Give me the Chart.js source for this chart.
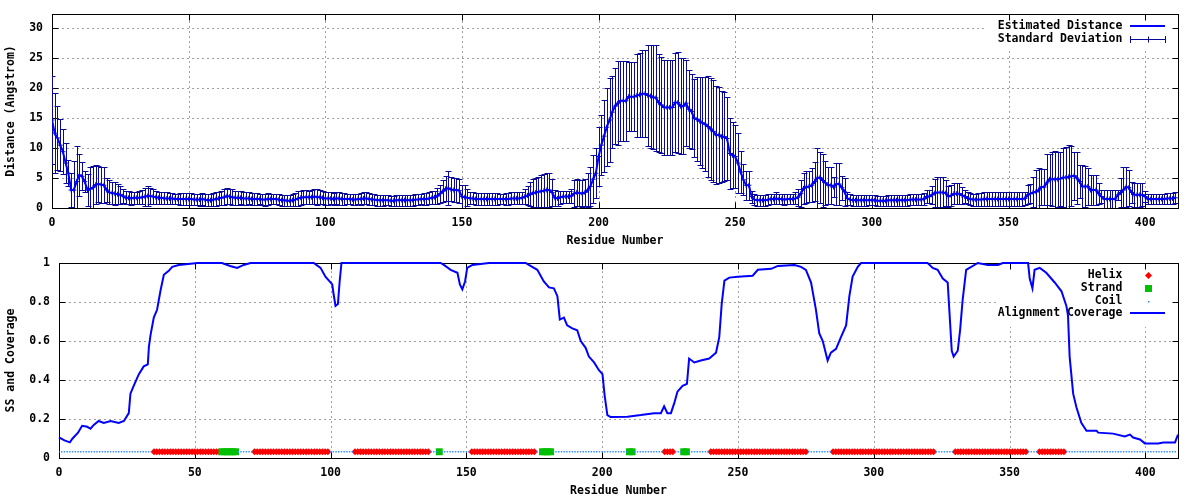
<!DOCTYPE html>
<html><head><meta charset="utf-8">
<script src="https://cdn.jsdelivr.net/npm/chart.js@4/dist/chart.umd.min.js"></script>
<style>
html,body{margin:0;padding:0;background:#fff;}
#wrap{position:relative;width:1200px;height:500px;background:#fff;}
canvas{position:absolute;left:0;}
</style></head><body>
<div id="wrap">
<canvas id="c1" width="1200" height="250" style="top:0"></canvas>
<canvas id="c2" width="1200" height="250" style="top:250px"></canvas>
</div>
<script>
// ---------- DATA ----------
const residueTicks = [0,50,100,150,200,250,300,350,400];
const distanceTicks = [0,5,10,15,20,25,30];
const coverageTicks = [0,0.2,0.4,0.6,0.8,1];
const coverageTickLabels = ['0','0.2','0.4','0.6','0.8','1'];

// estimated distance per residue (0..411)
const distance = [
14.7,12.5,11.7,10.5,9.4,7.5,5.8,3.0,3.0,4.4,
5.5,5.3,4.4,3.0,3.2,3.4,3.9,4.0,3.9,3.8,
3.0,2.6,2.5,2.4,2.3,2.2,2.0,1.7,1.7,1.6,
1.7,1.7,1.7,1.8,1.9,2.0,2.0,1.9,1.8,1.7,
1.7,1.6,1.6,1.6,1.6,1.5,1.5,1.5,1.5,1.5,
1.5,1.5,1.4,1.4,1.4,1.5,1.4,1.3,1.3,1.4,
1.5,1.6,1.7,1.8,2.0,1.9,1.8,1.7,1.7,1.7,
1.6,1.6,1.6,1.5,1.5,1.5,1.5,1.4,1.4,1.5,
1.5,1.5,1.5,1.4,1.3,1.3,1.2,1.2,1.3,1.4,
1.6,1.7,1.8,1.8,1.8,1.8,1.9,1.8,1.8,1.7,
1.6,1.6,1.6,1.5,1.6,1.6,1.5,1.5,1.5,1.5,
1.4,1.4,1.5,1.5,1.6,1.6,1.5,1.4,1.4,1.3,
1.3,1.3,1.3,1.3,1.2,1.2,1.3,1.3,1.3,1.3,
1.3,1.3,1.3,1.4,1.4,1.5,1.5,1.5,1.6,1.7,
1.8,2.0,2.4,2.8,3.2,3.3,3.1,3.0,3.0,2.9,
1.9,1.8,1.7,1.6,1.6,1.5,1.5,1.5,1.5,1.5,
1.5,1.5,1.5,1.5,1.5,1.5,1.5,1.5,1.6,1.6,
1.6,1.6,1.7,1.9,2.1,2.3,2.5,2.6,2.7,2.8,
2.9,3.0,3.0,2.6,1.7,1.6,1.8,1.9,1.9,1.9,
2.0,2.4,2.6,2.5,2.4,2.6,3.0,3.6,4.8,5.8,
8.6,10.5,12.0,13.5,14.7,16.0,17.0,17.5,17.9,17.9,
17.9,18.6,18.6,18.6,18.8,18.9,19.1,19.1,18.8,18.7,
18.5,18.4,17.6,17.2,16.8,16.8,16.8,16.8,17.6,17.6,
17.0,17.0,17.5,16.5,16.1,15.0,14.8,14.5,14.2,14.0,
13.6,13.2,12.8,12.2,12.2,11.9,11.9,11.6,9.1,8.8,
8.6,7.5,6.0,4.7,3.8,3.8,1.9,1.4,1.3,1.3,
1.3,1.3,1.4,1.5,1.5,1.6,1.5,1.5,1.4,1.5,
1.5,1.5,1.6,1.8,2.4,3.3,3.5,3.6,3.8,4.4,
5.0,5.1,4.6,4.2,3.8,3.8,3.5,4.0,4.0,3.4,
2.7,1.6,1.4,1.3,1.3,1.3,1.3,1.3,1.3,1.3,
1.3,1.3,1.2,1.2,1.2,1.2,1.3,1.3,1.3,1.3,
1.3,1.3,1.3,1.3,1.4,1.4,1.4,1.4,1.4,1.5,
1.9,1.9,2.2,2.5,2.6,2.6,2.6,2.5,1.9,2.1,
2.4,2.4,2.4,2.1,1.9,1.6,1.5,1.4,1.4,1.4,
1.4,1.5,1.5,1.5,1.5,1.5,1.5,1.5,1.5,1.5,
1.5,1.5,1.5,1.5,1.5,1.5,1.6,2.2,2.4,2.6,
2.7,3.0,3.5,3.5,4.2,4.8,4.8,4.8,4.8,4.9,
5.1,5.1,5.2,5.3,5.4,5.0,4.4,3.6,3.6,3.6,
3.0,3.0,3.0,2.4,1.9,1.5,1.5,1.5,1.5,1.5,
2.2,2.6,3.0,3.5,3.4,2.6,2.2,2.2,2.2,2.2,
1.9,1.5,1.5,1.5,1.5,1.5,1.5,1.5,1.6,1.6,1.6,1.7
];

// standard deviation per residue (0..411)
const stdDev = [
7.3,6.7,5.3,4.4,3.8,3.3,2.2,2.8,4.8,5.9,
3.5,2.3,1.8,2.6,3.6,3.6,3.2,3.0,3.0,3.0,
2.0,2.0,1.9,1.9,1.7,1.5,1.2,1.1,1.1,1.1,
1.0,1.0,1.1,1.2,1.5,1.6,1.4,1.2,1.1,1.0,
1.0,1.0,1.0,0.9,0.9,0.9,0.9,1.0,1.0,1.0,
1.0,1.0,0.9,0.9,1.0,1.0,1.0,1.0,1.0,1.1,
1.1,1.1,1.2,1.3,1.4,1.3,1.3,1.2,1.2,1.1,
1.1,1.1,1.0,1.0,1.0,1.0,0.9,0.9,1.0,1.0,
0.9,0.9,0.9,0.9,0.9,0.9,0.9,0.9,1.0,1.1,
1.2,1.2,1.2,1.2,1.1,1.2,1.3,1.3,1.2,1.1,
1.1,1.1,1.0,1.0,1.0,1.1,1.0,1.0,0.9,0.9,
0.9,0.9,0.9,1.0,1.0,1.0,1.0,0.9,0.9,0.9,
0.9,0.9,0.8,0.8,0.8,0.8,0.9,0.9,0.9,0.9,
0.9,0.9,0.9,0.9,0.9,0.9,1.0,1.0,1.0,1.1,
1.1,1.3,1.5,1.8,2.1,2.8,2.0,2.0,2.0,2.0,
2.0,2.0,1.4,1.0,1.0,1.0,1.0,1.0,1.0,1.0,
1.0,1.0,1.0,1.0,0.9,0.9,1.0,1.0,1.0,1.0,
1.0,1.0,1.0,1.3,1.6,2.0,2.3,2.4,2.5,2.7,
2.7,2.8,2.8,2.3,1.3,1.2,1.1,1.0,1.0,1.0,
1.1,2.2,2.2,2.2,2.2,2.3,2.8,3.3,4.0,4.2,
5.0,5.0,6.0,6.5,7.0,6.0,6.3,7.0,6.7,6.7,
6.7,5.8,5.8,5.8,7.0,7.0,7.3,7.3,8.5,8.6,
8.7,8.8,8.2,8.0,8.0,7.9,7.9,8.0,8.3,8.4,
8.0,8.0,7.2,6.5,6.2,6.5,7.0,7.3,7.6,7.8,
8.5,8.5,8.5,8.2,8.0,7.6,7.4,7.0,6.0,5.5,
5.2,5.0,3.5,2.6,2.4,2.4,1.0,0.9,0.9,0.9,
0.9,0.9,0.9,0.9,0.9,1.0,0.9,0.9,0.9,0.9,
0.9,0.9,1.0,1.4,2.3,2.6,2.6,2.6,2.8,3.3,
5.0,4.3,4.5,3.7,3.1,3.1,1.7,3.5,3.5,2.0,
2.3,1.1,0.9,0.9,0.9,0.9,0.9,0.9,0.9,0.8,
0.8,0.8,0.8,0.8,0.8,0.8,0.9,0.9,0.9,0.9,
0.9,0.9,0.9,0.9,0.9,0.9,0.9,0.9,0.9,1.0,
1.1,1.1,1.5,2.4,2.5,2.6,2.5,2.2,1.8,1.8,
1.7,1.7,1.7,1.4,1.1,1.0,1.0,1.0,1.0,1.1,
1.1,1.1,1.1,1.1,1.1,1.1,1.1,1.1,1.1,1.1,
1.1,1.1,1.1,1.1,1.1,1.1,1.1,1.6,1.6,2.5,
3.6,3.6,3.0,3.0,4.9,4.3,4.5,4.8,4.6,4.5,
4.9,5.1,5.3,5.0,4.0,4.4,2.8,3.6,3.4,3.1,
2.5,2.5,2.5,1.8,1.1,1.5,1.5,1.5,1.5,1.5,
0.8,2.4,3.8,3.3,3.0,1.8,2.0,2.0,2.0,1.9,
0.9,0.9,0.9,0.9,0.9,0.9,0.9,0.9,0.9,0.9,0.9,0.9
];

// alignment coverage: residue positions and values
const coverageX = [
0,2,4,5,7,8.5,10.4,11.6,12.8,14.6,
16.5,19,22,23.9,25.7,26.3,27.5,29.4,31.2,32.7,
33.1,33.7,34.9,36.1,37.4,38.6,40.4,41.7,44.1,51,
60,63,65.6,68,70.5,93.8,96.3,98.1,100.6,101,
101.8,102.7,103.3,104,140.5,141.7,144.2,146.7,147.6,148.5,
149.5,150.3,152.2,158.3,171.8,173.6,176.1,178.5,180.4,182.2,
183.5,184.4,185.9,187.1,189,190.8,192.1,193.9,195.1,197,
198.8,200.1,200.9,201.9,203.1,209.3,214.2,219.1,221.6,222.8,
224,225.3,226.5,227.7,229.6,231.2,232,233.9,236.3,239.4,
241.9,243.1,244,245,246.8,249.9,255.4,257.3,262.2,264.7,
270.8,273.2,275,276.9,278.7,279.9,281.2,283,284.2,286.1,
287.9,289.8,291,292.2,294.1,295.3,319.8,321.7,323.5,325.4,
327.2,327.8,328.7,329.4,330.9,331.8,332.7,334,338.3,342,
345.7,347.5,356.8,357.4,358.4,359.2,361.1,363.5,366.6,369.1,
370.9,371.5,372.1,373.4,374.6,376.4,378.3,382,382.6,388.1,
392.4,394.3,395.5,398,399.8,404.7,406.6,410.9,412
];
const coverageY = [
0.106,0.09,0.08,0.10,0.13,0.165,0.16,0.15,0.17,0.19,
0.18,0.19,0.18,0.19,0.23,0.33,0.37,0.43,0.47,0.48,
0.57,0.63,0.72,0.76,0.86,0.94,0.96,0.98,0.99,1.0,
1.0,0.985,0.975,0.99,1.0,1.0,0.975,0.93,0.89,0.85,
0.78,0.79,0.9,1.0,1.0,0.99,0.965,0.95,0.89,0.865,
0.905,0.975,0.99,1.0,1.0,0.985,0.965,0.905,0.875,0.87,
0.83,0.71,0.72,0.68,0.665,0.655,0.60,0.565,0.52,0.49,
0.45,0.43,0.32,0.22,0.21,0.212,0.22,0.23,0.23,0.265,
0.23,0.23,0.28,0.34,0.37,0.38,0.51,0.49,0.50,0.51,
0.54,0.62,0.79,0.91,0.925,0.93,0.935,0.965,0.97,0.985,
0.99,0.98,0.965,0.9,0.76,0.64,0.6,0.50,0.54,0.56,
0.62,0.68,0.83,0.93,0.98,1.0,1.0,0.975,0.965,0.92,
0.9,0.76,0.55,0.52,0.55,0.66,0.81,0.965,1.0,0.99,
0.99,1.0,1.0,0.92,0.87,0.965,0.975,0.95,0.9,0.855,
0.78,0.73,0.52,0.33,0.26,0.18,0.14,0.14,0.13,0.125,
0.11,0.12,0.105,0.095,0.075,0.075,0.08,0.08,0.12
];

// secondary structure (residue ranges) and the level they are drawn at
const helixRanges = [[35,59],[72,99],[109,136],[152,175],[223,226],[240,275],[285,322],[330,356],[361,370]];
const strandRanges = [[60,65],[140,140],[178,181],[210,211],[230,231]];
const ssLevel = 0.032;

// ---------- STYLE / HELPERS ----------
const FAMILY = "'DejaVu Sans Mono','Liberation Mono',monospace";
const FONT = {family: FAMILY, size: 11.5, weight: 'bold', lineHeight: 1.2};
const FONT_CSS = "bold 11.5px " + FAMILY;
const LINE_BLUE = '#0000ff';
const BAR_NAVY = '#0a0a9a';
const HELIX_RED = '#ff0000';
const STRAND_GREEN = '#00c000';
const COIL_BLUE = '#2a8cff';

function rangePoints(ranges) {
  const pts = [];
  ranges.forEach(([a, b]) => { for (let r = a; r <= b; r++) pts.push({x: r, y: ssLevel}); });
  return pts;
}
const lastResidue = distance.length - 1;
const ssSet = new Set(rangePoints(helixRanges.concat(strandRanges)).map(p => p.x));
const coilPoints = [];
for (let r = 0; r <= lastResidue; r++) if (!ssSet.has(r)) coilPoints.push({x: r, y: ssLevel});

function makeFrame(keyItems, keyW, keyH) {
  return {
    id: 'frame',
    beforeDatasetsDraw(chart) {
      const {ctx, chartArea: a} = chart;
      const sx = chart.scales.x, sy = chart.scales.y;
      ctx.save();
      // dotted grid
      ctx.strokeStyle = '#a0a0a0'; ctx.lineWidth = 1; ctx.setLineDash([2, 3]);
      ctx.beginPath();
      sx.ticks.forEach(t => {
        const p = Math.round(sx.getPixelForValue(t.value)) + 0.5;
        if (p > a.left + 2 && p < a.right - 2) { ctx.moveTo(p, a.bottom); ctx.lineTo(p, a.top); }
      });
      sy.ticks.forEach(t => {
        const p = Math.round(sy.getPixelForValue(t.value)) + 0.5;
        if (p > a.top + 2 && p < a.bottom - 2) { ctx.moveTo(a.left, p); ctx.lineTo(a.right, p); }
      });
      ctx.stroke(); ctx.setLineDash([]);
      // opaque key box
      ctx.fillStyle = '#fff';
      ctx.fillRect(a.right - keyW, a.top + 1, keyW - 1, keyH);
      // border
      ctx.strokeStyle = '#000'; ctx.lineWidth = 1;
      const L = Math.round(a.left) + 0.5, T = Math.round(a.top) + 0.5, R = Math.round(a.right) + 0.5, B = Math.round(a.bottom) + 0.5;
      ctx.strokeRect(L, T, R - L, B - T);
      // inward ticks on all sides
      ctx.beginPath();
      sx.ticks.forEach(t => {
        const p = Math.round(sx.getPixelForValue(t.value)) + 0.5;
        ctx.moveTo(p, B); ctx.lineTo(p, B - 6); ctx.moveTo(p, T); ctx.lineTo(p, T + 6);
      });
      sy.ticks.forEach(t => {
        const p = Math.round(sy.getPixelForValue(t.value)) + 0.5;
        ctx.moveTo(L, p); ctx.lineTo(L + 6, p); ctx.moveTo(R, p); ctx.lineTo(R - 6, p);
      });
      ctx.stroke();
      // key
      ctx.font = FONT_CSS; ctx.textAlign = 'right'; ctx.textBaseline = 'middle';
      const x0 = a.right - 48, x1 = a.right - 13, xm = Math.round((x0 + x1) / 2) + 0.5;
      keyItems.forEach((it, i) => {
        const y = Math.round(a.top + 12 + 12.8 * i) + 0.5;
        ctx.fillStyle = '#000';
        ctx.fillText(it.text, a.right - 55.6, y);
        if (it.kind === 'line') {
          ctx.strokeStyle = it.color; ctx.lineWidth = 2;
          ctx.beginPath(); ctx.moveTo(x0, y - 0.5); ctx.lineTo(x1, y - 0.5); ctx.stroke();
        } else if (it.kind === 'errorbar') {
          ctx.strokeStyle = it.color; ctx.lineWidth = 1;
          ctx.beginPath();
          ctx.moveTo(x0, y); ctx.lineTo(x1, y);
          ctx.moveTo(Math.round(x0) + 0.5, y - 3.5); ctx.lineTo(Math.round(x0) + 0.5, y + 3.5);
          ctx.moveTo(Math.round(x1) + 0.5, y - 3.5); ctx.lineTo(Math.round(x1) + 0.5, y + 3.5);
          ctx.moveTo(xm, y - 3); ctx.lineTo(xm, y + 3);
          ctx.stroke();
        } else if (it.kind === 'diamond') {
          ctx.fillStyle = it.color;
          ctx.beginPath(); ctx.moveTo(xm, y - 3.5); ctx.lineTo(xm + 3.5, y); ctx.lineTo(xm, y + 3.5); ctx.lineTo(xm - 3.5, y); ctx.closePath(); ctx.fill();
        } else if (it.kind === 'square') {
          ctx.fillStyle = it.color; ctx.fillRect(xm - 3.5, y - 3.5, 7, 7);
        } else if (it.kind === 'dot') {
          ctx.fillStyle = it.color; ctx.fillRect(xm - 0.5, y - 0.5, 1.5, 1.5);
        }
      });
      ctx.restore();
    }
  };
}

const errorBars = {
  id: 'errorBars',
  beforeDatasetsDraw(chart) {
    const {ctx, chartArea: a} = chart;
    const sx = chart.scales.x, sy = chart.scales.y;
    ctx.save();
    ctx.beginPath(); ctx.rect(a.left, a.top, a.right - a.left, a.bottom - a.top); ctx.clip();
    ctx.strokeStyle = BAR_NAVY; ctx.lineWidth = 1;
    ctx.beginPath();
    distance.forEach((v, i) => {
      const x = Math.round(sx.getPixelForValue(i)) + 0.5;
      const yl = Math.round(sy.getPixelForValue(v - stdDev[i])) + 0.5;
      const yh = Math.round(sy.getPixelForValue(v + stdDev[i])) + 0.5;
      ctx.moveTo(x, yl); ctx.lineTo(x, yh);
      ctx.moveTo(x - 3, yl); ctx.lineTo(x + 3, yl);
      ctx.moveTo(x - 3, yh); ctx.lineTo(x + 3, yh);
    });
    ctx.stroke();
    ctx.restore();
  }
};

function axisOptions(yTicks, yLabels, yTitle, yMax, yWidth) {
  return {
    x: {
      type: 'linear', min: 0, max: 412,
      grid: {display: false, drawTicks: false, tickLength: 0}, border: {display: false},
      afterBuildTicks: s => { s.ticks = residueTicks.map(v => ({value: v})); },
      afterFit: s => { s.height = 42; s.paddingLeft = 0; s.paddingRight = 0; },
      ticks: {color: '#000', font: FONT, padding: 8, maxRotation: 0, autoSkip: false,
              callback: v => String(v)},
      title: {display: true, text: 'Residue Number', color: '#000', font: FONT, padding: {top: 0, bottom: 2}}
    },
    y: {
      type: 'linear', min: 0, max: yMax,
      grid: {display: false, drawTicks: false, tickLength: 0}, border: {display: false},
      afterBuildTicks: s => { s.ticks = yTicks.map(v => ({value: v})); },
      afterFit: s => { s.width = yWidth; s.paddingTop = 0; s.paddingBottom = 0; },
      ticks: {color: '#000', font: FONT, padding: 9, autoSkip: false,
              callback: (v, i) => yLabels[i]},
      title: {display: true, text: yTitle, color: '#000', font: FONT, padding: {top: 4, bottom: 0}}
    }
  };
}

const common = {
  responsive: false, animation: false, devicePixelRatio: 1, events: [],
  plugins: {legend: {display: false}, tooltip: {enabled: false}}
};

// ---------- TOP: estimated distance ----------
new Chart(document.getElementById('c1'), {
  type: 'line',
  data: {
    datasets: [
      {label: 'Estimated Distance', data: distance.map((v, i) => ({x: i, y: v})),
       borderColor: LINE_BLUE, borderWidth: 2, pointRadius: 0, tension: 0, order: 0},
      {label: 'Standard Deviation', data: distance.map((v, i) => ({x: i, y: v})),
       showLine: false, pointStyle: 'cross', pointRadius: 2.5, borderColor: BAR_NAVY,
       pointBorderColor: BAR_NAVY, pointBorderWidth: 1, order: 1}
    ]
  },
  options: Object.assign({}, common, {
    layout: {padding: {left: 0, right: 22, top: 14, bottom: 0}},
    scales: axisOptions(distanceTicks, distanceTicks.map(String), 'Distance (Angstrom)', 32.4, 52)
  }),
  plugins: [
    makeFrame([{text: 'Estimated Distance', kind: 'line', color: LINE_BLUE},
               {text: 'Standard Deviation', kind: 'errorbar', color: BAR_NAVY}], 192, 33),
    errorBars
  ]
});

// ---------- BOTTOM: secondary structure and coverage ----------
new Chart(document.getElementById('c2'), {
  type: 'line',
  data: {
    datasets: [
      {label: 'Alignment Coverage', data: coverageX.map((x, i) => ({x: x, y: coverageY[i]})),
       borderColor: LINE_BLUE, borderWidth: 2, pointRadius: 0, tension: 0, clip: 3, order: 0},
      {label: 'Coil', data: coilPoints, showLine: false, pointStyle: 'rect', pointRadius: 1,
       backgroundColor: COIL_BLUE, borderColor: COIL_BLUE, pointBorderWidth: 0, order: 1},
      {label: 'Strand', data: rangePoints(strandRanges), showLine: false, pointStyle: 'rect', pointRadius: 4.9,
       backgroundColor: STRAND_GREEN, borderColor: STRAND_GREEN, pointBorderWidth: 0, order: 2},
      {label: 'Helix', data: rangePoints(helixRanges), showLine: false, pointStyle: 'rectRot', pointRadius: 3.6,
       backgroundColor: HELIX_RED, borderColor: HELIX_RED, pointBorderWidth: 0, order: 3}
    ]
  },
  options: Object.assign({}, common, {
    layout: {padding: {left: 0, right: 22, top: 13, bottom: 0}},
    scales: axisOptions(coverageTicks, coverageTickLabels, 'SS and Coverage', 1, 59)
  }),
  plugins: [
    makeFrame([{text: 'Helix', kind: 'diamond', color: HELIX_RED},
               {text: 'Strand', kind: 'square', color: STRAND_GREEN},
               {text: 'Coil', kind: 'dot', color: COIL_BLUE},
               {text: 'Alignment Coverage', kind: 'line', color: LINE_BLUE}], 180, 63)
  ]
});
</script>
</body></html>
